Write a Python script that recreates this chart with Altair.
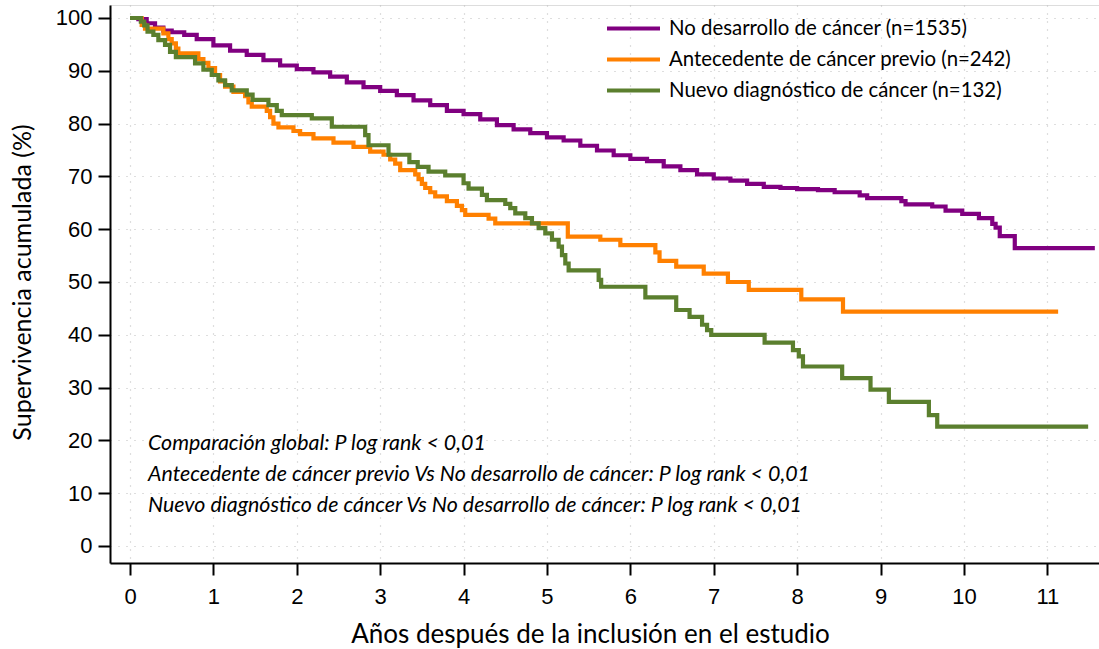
import altair as alt
import pandas as pd

# Kaplan-Meier curves: (years since inclusion, cumulative survival %), one point per step
no_desarrollo = [
    (0, 100), (0.1, 99.8), (0.2, 99.0), (0.3, 98.2), (0.4, 97.6), (0.5, 97.3),
    (0.65, 96.8), (0.8, 96.0), (1.0, 94.8), (1.2, 93.8), (1.4, 93.0), (1.6, 92.0),
    (1.8, 91.0), (2.0, 90.3), (2.2, 89.7), (2.4, 88.9), (2.6, 87.8), (2.8, 86.9),
    (3.0, 86.2), (3.2, 85.4), (3.4, 84.4), (3.6, 83.5), (3.8, 82.4), (4.0, 81.8),
    (4.2, 80.8), (4.4, 79.7), (4.6, 78.9), (4.8, 78.2), (5.0, 77.4), (5.2, 76.8),
    (5.4, 75.8), (5.6, 74.9), (5.8, 74.0), (6.0, 73.3), (6.2, 72.9), (6.4, 71.9),
    (6.6, 71.2), (6.8, 70.4), (7.0, 69.6), (7.2, 69.2), (7.4, 68.6), (7.6, 68.0),
    (7.8, 67.8), (8.0, 67.6), (8.25, 67.4), (8.45, 67.0), (8.75, 66.4), (8.84, 65.9),
    (9.25, 65.3), (9.3, 64.7), (9.62, 64.3), (9.78, 63.5), (9.98, 62.9), (10.18, 62.1),
    (10.34, 61.0), (10.38, 60.3), (10.43, 58.7), (10.61, 56.4), (11.57, 56.4),
]

antecedente_previo = [
    (0, 100), (0.14, 98.7), (0.18, 98.0), (0.4, 97.1), (0.46, 96.0), (0.5, 95.2),
    (0.55, 94.2), (0.58, 93.3), (0.82, 92.2), (0.88, 91.5), (0.94, 90.5), (1.02, 89.2),
    (1.08, 88.0), (1.14, 87.0), (1.24, 86.0), (1.38, 85.2), (1.42, 84.0), (1.46, 83.2),
    (1.64, 82.4), (1.68, 81.2), (1.72, 80.0), (1.78, 79.3), (1.96, 78.6), (2.04, 78.0),
    (2.2, 77.2), (2.44, 76.4), (2.68, 75.6), (2.88, 74.7), (3.04, 74.1), (3.12, 73.2),
    (3.18, 72.4), (3.24, 71.2), (3.42, 70.4), (3.46, 69.5), (3.5, 68.6), (3.54, 67.8),
    (3.6, 67.0), (3.66, 66.2), (3.8, 65.3), (3.92, 64.4), (3.98, 63.6), (4.02, 62.7),
    (4.3, 62.0), (4.38, 61.1), (5.25, 58.6), (5.64, 58.0), (5.88, 57.0), (6.3, 55.6),
    (6.35, 54.0), (6.55, 52.9), (6.88, 51.6), (7.17, 50.0), (7.42, 48.5), (8.05, 46.7),
    (8.55, 44.4), (11.13, 44.4),
]

nuevo_diagnostico = [
    (0, 100), (0.13, 99.3), (0.17, 98.6), (0.21, 97.4), (0.28, 96.8), (0.34, 95.8),
    (0.42, 94.9), (0.48, 93.6), (0.55, 92.6), (0.78, 91.4), (0.88, 90.2), (0.98, 89.2),
    (1.06, 88.2), (1.14, 87.3), (1.22, 86.3), (1.4, 85.5), (1.47, 84.5), (1.66, 83.5),
    (1.76, 82.4), (1.82, 81.6), (2.18, 81.0), (2.42, 79.4), (2.82, 77.8), (2.86, 75.9),
    (3.1, 74.1), (3.35, 72.7), (3.45, 71.8), (3.58, 70.9), (3.78, 70.2), (4.0, 68.7),
    (4.06, 67.7), (4.22, 66.5), (4.28, 65.5), (4.5, 64.8), (4.56, 64.0), (4.62, 63.0),
    (4.74, 62.1), (4.82, 61.1), (4.9, 60.2), (4.98, 59.2), (5.06, 58.0), (5.14, 56.7),
    (5.18, 55.1), (5.22, 53.5), (5.26, 52.2), (5.62, 50.4), (5.65, 49.1), (6.18, 47.1),
    (6.55, 44.7), (6.71, 43.4), (6.86, 41.9), (6.92, 40.9), (6.97, 40.0), (7.61, 38.5),
    (7.95, 37.1), (8.02, 35.9), (8.07, 34.0), (8.54, 31.8), (8.88, 29.6), (9.1, 27.3),
    (9.58, 24.8), (9.68, 22.6), (11.49, 22.6),
]

grupos = [
    "No desarrollo de cáncer (n=1535)",
    "Antecedente de cáncer previo (n=242)",
    "Nuevo diagnóstico de cáncer (n=132)",
]
colores = ["#800080", "#FF8000", "#5B7F2E"]

x_ticks = list(range(0, 12))
y_ticks = list(range(0, 101, 10))

notas = [
    "Comparación global: P log rank < 0,01",
    "Antecedente de cáncer previo Vs No desarrollo de cáncer: P log rank < 0,01",
    "Nuevo diagnóstico de cáncer Vs No desarrollo de cáncer: P log rank < 0,01",
]

filas = []
for grupo, serie in zip(grupos, [no_desarrollo, antecedente_previo, nuevo_diagnostico]):
    for i, (t, s) in enumerate(serie):
        filas.append({"anios": t, "supervivencia": s, "grupo": grupo, "orden": i})
df = pd.DataFrame(filas)

TICK_FONT = "Liberation Sans"
TEXT_FONT = "Lato"

x_axis = alt.Axis(
    values=x_ticks, title="Años después de la inclusión en el estudio",
    grid=True, gridColor="#bdbdbd", gridDash=[1, 7], gridWidth=1.2,
    domainColor="black", domainWidth=2, tickColor="black", tickWidth=2, tickSize=12,
    labelFont=TICK_FONT, labelFontSize=22, labelColor="black", labelPadding=11,
    titleFont=TEXT_FONT, titleFontSize=26, titleFontWeight="normal", titleColor="black",
    titlePadding=14, titleX=480, titleAlign="center",
)
y_axis = alt.Axis(
    values=y_ticks, title="Supervivencia acumulada (%)",
    grid=True, gridColor="#bdbdbd", gridDash=[1, 7], gridWidth=1.2,
    domainColor="black", domainWidth=2, tickColor="black", tickWidth=2, tickSize=12,
    labelFont=TICK_FONT, labelFontSize=22, labelColor="black", labelPadding=6,
    titleFont=TEXT_FONT, titleFontSize=25, titleFontWeight="normal", titleColor="black",
    titlePadding=20, titleY=277, titleAlign="center",
)

curvas = alt.Chart(df).mark_line(
    interpolate="step-after", strokeWidth=4.2, strokeCap="butt"
).encode(
    x=alt.X("anios:Q", scale=alt.Scale(domain=[-0.24, 11.62], nice=False, zero=False), axis=x_axis),
    y=alt.Y("supervivencia:Q", scale=alt.Scale(domain=[-3.22, 102.46], nice=False, zero=False), axis=y_axis),
    color=alt.Color(
        "grupo:N",
        scale=alt.Scale(domain=grupos, range=colores),
        legend=alt.Legend(
            title=None, orient="none", legendX=495, legendY=8,
            symbolType="stroke", symbolSize=2809, symbolStrokeWidth=4,
            clipHeight=31, rowPadding=0, padding=0, labelOffset=7,
            labelFont=TEXT_FONT, labelFontSize=20.4, labelColor="black", labelLimit=500,
        ),
    ),
    order="orden:Q",
)

capas = [curvas]
for i, nota in enumerate(notas):
    capas.append(
        alt.Chart().mark_text(
            text=nota, font=TEXT_FONT, fontSize=21.4, fontStyle="italic",
            align="left", baseline="middle", color="black",
        ).encode(x=alt.value(38), y=alt.value(439 + 31 * i))
    )

chart = alt.layer(*capas).properties(
    width=989, height=558,
    padding={"left": 110, "top": 5, "right": 0, "bottom": 86},
    autosize=alt.AutoSizeParams(type="none"),
).configure_view(stroke=None).configure(background="white")

chart.save("out.html", embed_options={"renderer": "svg", "actions": False})
